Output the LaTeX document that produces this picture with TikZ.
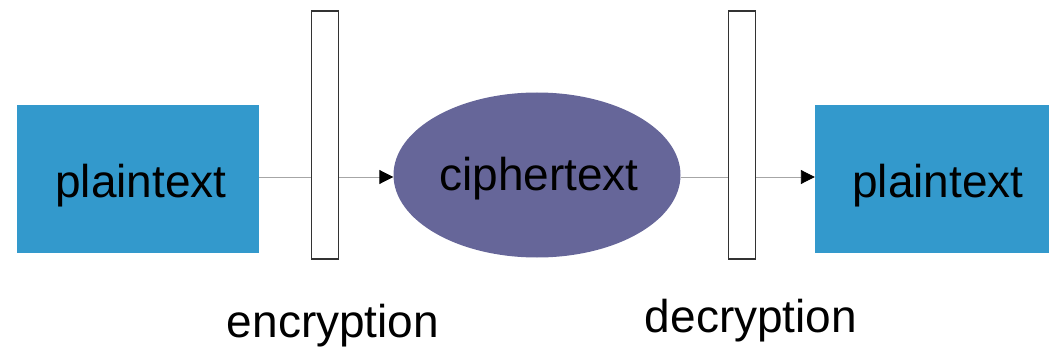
\documentclass[tikz,border=0pt]{standalone}
\usepackage{fontspec}
\setmainfont{Liberation Sans}
\usetikzlibrary{arrows.meta,shapes.geometric}
\definecolor{boxblue}{HTML}{3399CC}
\definecolor{ellpurple}{HTML}{666699}
\begin{document}
\begin{tikzpicture}[x=1pt,y=-1pt,
  txt/.style={font=\fontsize{46}{50}\selectfont, text=black},
  bluebox/.style={fill=boxblue, draw=none, minimum width=242pt, minimum height=148pt, inner sep=0pt},
  keybar/.style={fill=white, draw=black!80, line width=1.8pt, minimum width=27pt, minimum height=248pt, inner sep=0pt},
  conn/.style={draw=black!35, line width=0.9pt},
  arr/.style={conn, -{Triangle[length=14pt,width=14pt,fill=black,color=black]}}]
\useasboundingbox (0,0) rectangle (1049,350);
\node[bluebox] (p1) at (138,179) {};
\node[txt] (p1t) at (141,186) {plaintext};
\node[keybar] (k1) at (325,135) {};
\node[ellipse, fill=ellpurple, draw=none, minimum width=287pt, minimum height=165pt, inner sep=0pt] (c) at (537,175) {};
\node[txt] (ct) at (539,179) {ciphertext};
\node[keybar] (k2) at (742,135) {};
\node[bluebox, minimum width=234pt] (p2) at (932,179) {};
\node[txt] (p2t) at (938,186) {plaintext};
\node[txt] (enc) at (333,326) {encryption};
\node[txt] (dec) at (751,321) {decryption};
\draw[conn] (p1.east |- 0,177) -- (k1.west |- 0,177);
\draw[arr] (k1.east |- 0,177) -- (c.west |- 0,177);
\draw[conn] (c.east |- 0,177) -- (k2.west |- 0,177);
\draw[arr] (k2.east |- 0,177) -- (p2.west |- 0,177);
\end{tikzpicture}
\end{document}
